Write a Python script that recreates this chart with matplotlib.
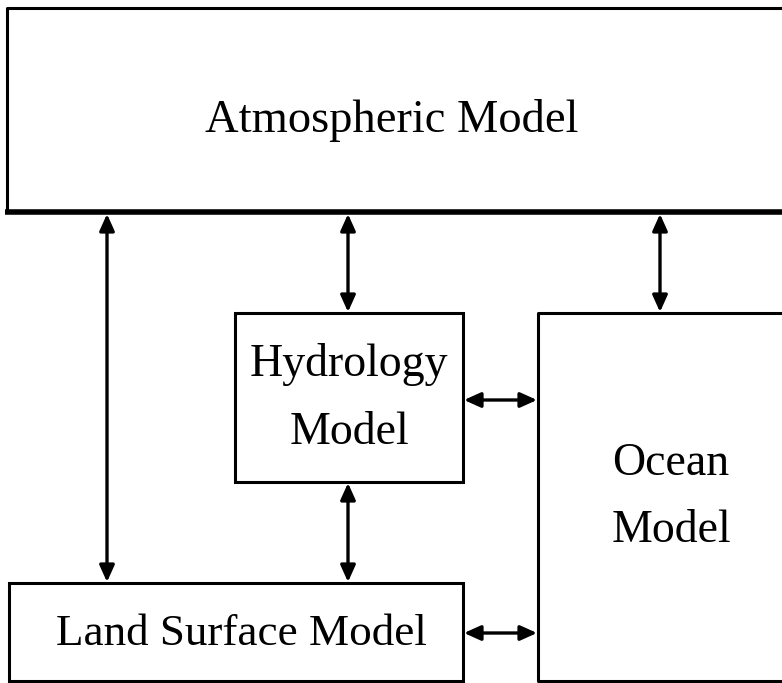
import matplotlib
matplotlib.use("Agg")
import matplotlib.pyplot as plt

# Labels of the component models
labels = ["Atmospheric Model", "Hydrology\nModel", "Ocean\nModel", "Land Surface Model"]

W, H = 782, 683
fig = plt.figure(figsize=(W / 100, H / 100), dpi=100)
ax = fig.add_axes([0, 0, 1, 1])
ax.set_xlim(0, W)
ax.set_ylim(H, 0)
ax.axis("off")

lw = 2.2
# Atmospheric box (open to the right)
ax.plot([W + 5, 7, 7], [8, 8, 212], color="black", lw=lw, solid_capstyle="butt")
ax.plot([5, W + 5], [212, 212], color="black", lw=4.0, solid_capstyle="butt")
# Hydrology box
ax.add_patch(plt.Rectangle((235, 313), 228, 169, fill=False, lw=lw, ec="black"))
# Land box
ax.add_patch(plt.Rectangle((9, 583), 454, 98, fill=False, lw=lw, ec="black"))
# Ocean box (open to the right)
ax.plot([W + 5, 538, 538, W + 5], [313, 313, 681, 681], color="black", lw=lw)

font = dict(family="Liberation Serif", color="black", ha="center", va="center")
ax.text(392, 120, labels[0], fontsize=33.5, **font)
hyd = labels[1].split("\n")
ax.text(349, 364, hyd[0], fontsize=33, **font)
ax.text(349, 433, hyd[1], fontsize=33, **font)
oce = labels[2].split("\n")
ax.text(671, 464, oce[0], fontsize=33, **font)
ax.text(671, 531, oce[1], fontsize=33, **font)
ax.text(241, 634, labels[3], fontsize=32.5, **font)

ap = dict(arrowstyle="<|-|>,head_length=1.0,head_width=0.45", color="black",
          lw=2.4, shrinkA=0, shrinkB=0)
arrows = [((107, 214), (107, 582)),
          ((348, 214), (348, 312)),
          ((660, 214), (660, 312)),
          ((348, 483), (348, 582)),
          ((464, 400), (537, 400)),
          ((464, 633), (537, 633))]
for a, b in arrows:
    ax.annotate("", xy=b, xytext=a, arrowprops=ap)

fig.savefig("out.png", dpi=100)
